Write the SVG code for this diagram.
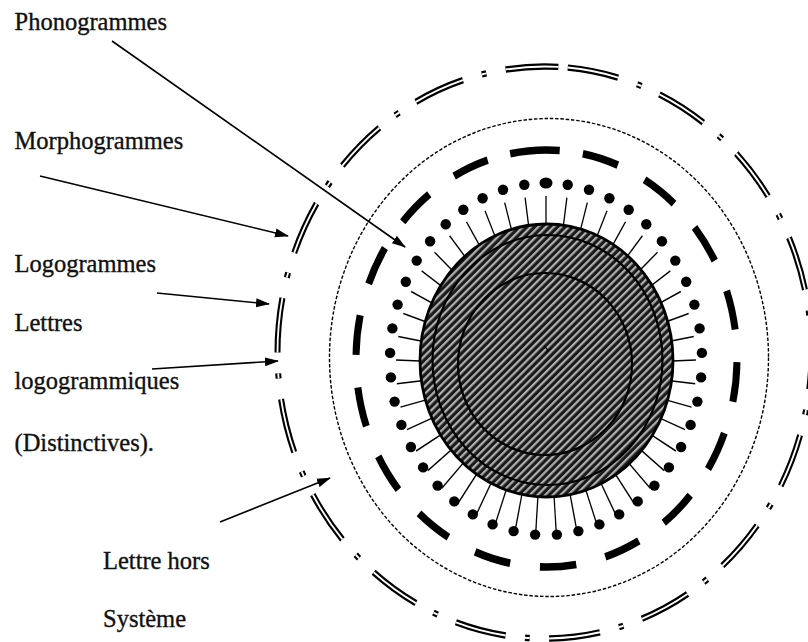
<svg xmlns="http://www.w3.org/2000/svg" width="808" height="642" viewBox="0 0 808 642">
<defs>
  <pattern id="hatch" patternUnits="userSpaceOnUse" width="5.4" height="5.4" patternTransform="rotate(45)">
    <rect width="5.4" height="5.4" fill="#1a1a1a"/>
    <rect x="0" y="0" width="2.2" height="5.4" fill="#b0b0b0"/>
  </pattern>
  <marker id="ah" markerUnits="userSpaceOnUse" markerWidth="14" markerHeight="10" refX="13" refY="5" orient="auto">
    <path d="M0,0.5 L14,5 L0,9.5 z" fill="#000"/>
  </marker>
  <line id="sp" x1="0" y1="-108" x2="0" y2="-150"/>
</defs>
<style>
  .lbl{font-family:"Liberation Serif","Times New Roman",serif;font-size:24.5px;fill:#111;stroke:#111;stroke-width:0.35}
  .arrow{stroke:#000;stroke-width:1.6;fill:none;marker-end:url(#ah)}
  .dot{fill:#000}
  .outer{fill:none;stroke-dasharray:11 4.2 1 4.2 11 4.2 1 4.2 11 4.2 1 4.2 11 4.2 1 4.2 11 4.2 1 4.2 11 4.2 1 4.2 11 4.2 1 4.2 11 4.2 1 4.2 11 4.2 1 4.2 11 4.2 1 4.2 11 4.2 1 4.2 11 4.2 1 4.2 11 4.2 1 4.2 11.4 2 11 4.3 1 4.2 11 4.2 1 4.2 11 4.2 1 4.2 11 4.2 1 3.9;stroke-dashoffset:3.6}
</style>

<g id="ring-outer" transform="translate(544.5 352.5) scale(1 1.0712)">
  <circle class="outer" r="267" stroke="#000" stroke-width="6" pathLength="360"/>
  <circle class="outer" r="267" stroke="#fff" stroke-width="1.8" pathLength="360"/>
</g>

<g id="ring-dotted">
  <ellipse cx="549" cy="357.5" rx="219.5" ry="239" fill="none" stroke="#000" stroke-width="1.4" stroke-dasharray="3.5 1.8"/>
</g>

<g id="ring-dashed" transform="translate(546.5 358.5) scale(1 1.0945)">
  <circle r="190.5" fill="none" stroke="#000" stroke-width="7" pathLength="360" stroke-dasharray="11 9 11 9 11 9 11 9 11 9 11 9 11 9 11 9 11 9 11 9 11 9 11 9 11 7 15 7 11 9 11 9 11 9 11 9" stroke-dashoffset="-1"/>
</g>

<g id="spikes" transform="translate(546 366) scale(1 1.1333)" stroke="#000" stroke-width="1.3">
  <use href="#sp"/><use href="#sp" transform="rotate(8)"/><use href="#sp" transform="rotate(16)"/><use href="#sp" transform="rotate(24)"/><use href="#sp" transform="rotate(32)"/><use href="#sp" transform="rotate(40)"/><use href="#sp" transform="rotate(48)"/><use href="#sp" transform="rotate(56)"/><use href="#sp" transform="rotate(64)"/><use href="#sp" transform="rotate(72)"/><use href="#sp" transform="rotate(80)"/><use href="#sp" transform="rotate(88)"/><use href="#sp" transform="rotate(96)"/><use href="#sp" transform="rotate(104)"/><use href="#sp" transform="rotate(112)"/><use href="#sp" transform="rotate(120)"/><use href="#sp" transform="rotate(128)"/><use href="#sp" transform="rotate(136)"/><use href="#sp" transform="rotate(144)"/><use href="#sp" transform="rotate(152)"/><use href="#sp" transform="rotate(160)"/><use href="#sp" transform="rotate(168)"/><use href="#sp" transform="rotate(176)"/><use href="#sp" transform="rotate(184)"/><use href="#sp" transform="rotate(192)"/><use href="#sp" transform="rotate(200)"/><use href="#sp" transform="rotate(208)"/><use href="#sp" transform="rotate(216)"/><use href="#sp" transform="rotate(224)"/><use href="#sp" transform="rotate(232)"/><use href="#sp" transform="rotate(240)"/><use href="#sp" transform="rotate(248)"/><use href="#sp" transform="rotate(256)"/><use href="#sp" transform="rotate(264)"/><use href="#sp" transform="rotate(272)"/><use href="#sp" transform="rotate(280)"/><use href="#sp" transform="rotate(288)"/><use href="#sp" transform="rotate(296)"/><use href="#sp" transform="rotate(304)"/><use href="#sp" transform="rotate(312)"/><use href="#sp" transform="rotate(320)"/><use href="#sp" transform="rotate(328)"/><use href="#sp" transform="rotate(336)"/><use href="#sp" transform="rotate(344)"/><use href="#sp" transform="rotate(352)"/>
</g>

<g id="core">
  <ellipse cx="546.5" cy="360.5" rx="126.5" ry="136.5" fill="url(#hatch)" stroke="#000" stroke-width="2.8"/>
  <ellipse cx="547.5" cy="360" rx="115" ry="125" fill="none" stroke="#000" stroke-width="2.2"/>
  <ellipse cx="545" cy="364" rx="87" ry="91" fill="none" stroke="#000" stroke-width="2.2"/>
  <path d="M544,346 L548,350 L545,354 M548,350 L551,349" stroke="#000" stroke-width="1.2" fill="none"/>
</g>

<g id="dots">
  <ellipse class="dot" cx="546" cy="183" rx="6.5" ry="5.5"/>
  <circle class="dot" cx="567.7" cy="184.7" r="5.2"/>
  <circle class="dot" cx="589" cy="189.8" r="5.2"/>
  <circle class="dot" cx="609.4" cy="198.2" r="5.2"/>
  <circle class="dot" cx="628.7" cy="209.8" r="5.2"/>
  <circle class="dot" cx="646.3" cy="224.2" r="5.2"/>
  <circle class="dot" cx="661.9" cy="241.2" r="5.2"/>
  <circle class="dot" cx="675.3" cy="260.6" r="5.2"/>
  <circle class="dot" cx="686.2" cy="281.8" r="5.2"/>
  <circle class="dot" cx="694.4" cy="304.6" r="5.2"/>
  <circle class="dot" cx="699.6" cy="328.4" r="5.2"/>
  <circle class="dot" cx="701.9" cy="352.9" r="5.2"/>
  <circle class="dot" cx="701.1" cy="377.4" r="5.2"/>
  <circle class="dot" cx="697.4" cy="401.6" r="5.2"/>
  <circle class="dot" cx="690.6" cy="424.9" r="5.2"/>
  <circle class="dot" cx="681.1" cy="447" r="5.2"/>
  <circle class="dot" cx="668.9" cy="467.4" r="5.2"/>
  <circle class="dot" cx="654.4" cy="485.6" r="5.2"/>
  <circle class="dot" cx="637.7" cy="501.4" r="5.2"/>
  <circle class="dot" cx="619.2" cy="514.4" r="5.2"/>
  <circle class="dot" cx="599.4" cy="524.4" r="5.2"/>
  <circle class="dot" cx="578.4" cy="531.1" r="5.2"/>
  <circle class="dot" cx="556.9" cy="534.6" r="5.2"/>
  <circle class="dot" cx="535.1" cy="534.6" r="5.2"/>
  <circle class="dot" cx="513.6" cy="531.1" r="5.2"/>
  <circle class="dot" cx="492.6" cy="524.4" r="5.2"/>
  <circle class="dot" cx="472.8" cy="514.4" r="5.2"/>
  <circle class="dot" cx="454.3" cy="501.4" r="5.2"/>
  <circle class="dot" cx="437.6" cy="485.6" r="5.2"/>
  <circle class="dot" cx="423.1" cy="467.4" r="5.2"/>
  <circle class="dot" cx="410.9" cy="447" r="5.2"/>
  <circle class="dot" cx="401.4" cy="424.9" r="5.2"/>
  <circle class="dot" cx="394.6" cy="401.6" r="5.2"/>
  <circle class="dot" cx="390.9" cy="377.4" r="5.2"/>
  <circle class="dot" cx="390.1" cy="352.9" r="5.2"/>
  <circle class="dot" cx="392.4" cy="328.4" r="5.2"/>
  <circle class="dot" cx="397.6" cy="304.6" r="5.2"/>
  <circle class="dot" cx="405.8" cy="281.8" r="5.2"/>
  <circle class="dot" cx="416.7" cy="260.6" r="5.2"/>
  <circle class="dot" cx="430.1" cy="241.2" r="5.2"/>
  <circle class="dot" cx="445.7" cy="224.2" r="5.2"/>
  <circle class="dot" cx="463.3" cy="209.8" r="5.2"/>
  <circle class="dot" cx="482.6" cy="198.2" r="5.2"/>
  <circle class="dot" cx="503" cy="189.8" r="5.2"/>
  <circle class="dot" cx="524.3" cy="184.7" r="5.2"/>
</g>

<g id="connectors">
  <line class="arrow" x1="112" y1="41" x2="405" y2="247"/>
  <line class="arrow" x1="40" y1="176" x2="288" y2="236"/>
  <line class="arrow" x1="157" y1="293" x2="269" y2="304"/>
  <line class="arrow" x1="152" y1="369" x2="278" y2="361"/>
  <line class="arrow" x1="220" y1="522" x2="330" y2="478"/>
</g>

<g id="label-phonogrammes"><text class="lbl" x="14.5" y="30">Phonogrammes</text></g>
<g id="label-morphogrammes"><text class="lbl" x="14.5" y="149">Morphogrammes</text></g>
<g id="label-logogrammes"><text class="lbl" x="14.5" y="272">Logogrammes</text></g>
<g id="label-lettres-logogrammiques">
  <text class="lbl" x="14.5" y="331">Lettres</text>
  <text class="lbl" x="14.5" y="389">logogrammiques</text>
  <text class="lbl" x="14.5" y="451">(Distinctives).</text>
</g>
<g id="label-lettre-hors-systeme">
  <text class="lbl" x="103" y="569">Lettre hors</text>
  <text class="lbl" x="103" y="627">Système</text>
</g>
</svg>
